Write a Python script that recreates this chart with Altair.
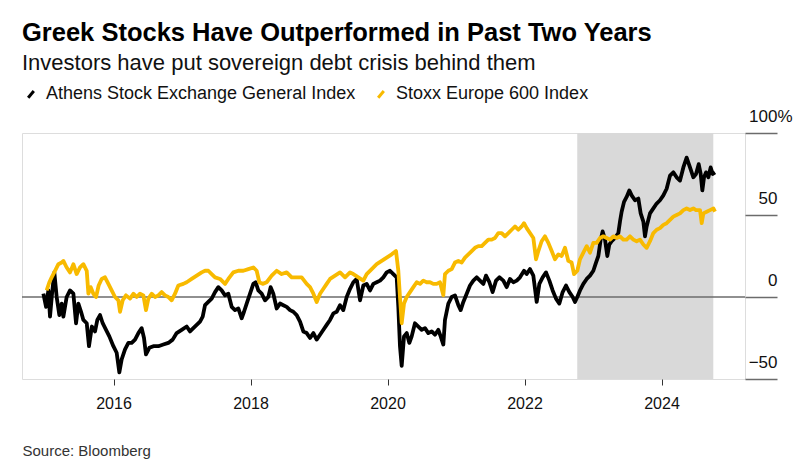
import altair as alt
import pandas as pd

# ---- data (decimal year, % change) ----
athens_year = [
    2014.976, 2015.015, 2015.049, 2015.073, 2015.107, 2015.136, 2015.170, 2015.209, 2015.243, 2015.268,
    2015.316, 2015.365, 2015.414, 2015.453, 2015.487, 2015.526, 2015.560, 2015.609, 2015.642, 2015.684,
    2015.730, 2015.764, 2015.803, 2015.842, 2015.891, 2015.939, 2015.998, 2016.046, 2016.085, 2016.119,
    2016.168, 2016.217, 2016.265, 2016.314, 2016.363, 2016.411, 2016.445, 2016.474, 2016.523, 2016.582,
    2016.655, 2016.727, 2016.800, 2016.864, 2016.922, 2016.995, 2017.068, 2017.117, 2017.165, 2017.214,
    2017.263, 2017.302, 2017.336, 2017.384, 2017.433, 2017.482, 2017.530, 2017.579, 2017.628, 2017.676,
    2017.725, 2017.774, 2017.822, 2017.871, 2017.905, 2017.944, 2017.993, 2018.041, 2018.075, 2018.114,
    2018.163, 2018.212, 2018.260, 2018.294, 2018.333, 2018.382, 2018.431, 2018.479, 2018.528, 2018.577,
    2018.625, 2018.674, 2018.723, 2018.771, 2018.820, 2018.869, 2018.918, 2018.966, 2019.015, 2019.064,
    2019.112, 2019.161, 2019.210, 2019.258, 2019.307, 2019.355, 2019.404, 2019.453, 2019.501, 2019.550,
    2019.599, 2019.647, 2019.696, 2019.745, 2019.793, 2019.842, 2019.891, 2019.939, 2019.988, 2020.036,
    2020.085, 2020.134, 2020.158, 2020.182, 2020.207, 2020.241, 2020.280, 2020.319, 2020.353, 2020.401,
    2020.450, 2020.499, 2020.547, 2020.596, 2020.645, 2020.693, 2020.742, 2020.776, 2020.815, 2020.839,
    2020.888, 2020.937, 2020.985, 2021.034, 2021.068, 2021.107, 2021.156, 2021.204, 2021.253, 2021.302,
    2021.350, 2021.399, 2021.438, 2021.487, 2021.535, 2021.584, 2021.633, 2021.691, 2021.740, 2021.788,
    2021.837, 2021.886, 2021.934, 2021.993, 2022.032, 2022.080, 2022.129, 2022.178, 2022.217, 2022.265,
    2022.314, 2022.363, 2022.411, 2022.460, 2022.509, 2022.557, 2022.606, 2022.655, 2022.703, 2022.737,
    2022.771, 2022.810, 2022.859, 2022.908, 2022.956, 2023.005, 2023.044, 2023.078, 2023.112, 2023.141,
    2023.175, 2023.209, 2023.238, 2023.273, 2023.321, 2023.370, 2023.394, 2023.418, 2023.453, 2023.491,
    2023.530, 2023.564, 2023.613, 2023.662, 2023.696, 2023.735, 2023.759, 2023.783, 2023.832, 2023.881,
    2023.929, 2023.978, 2024.027, 2024.075, 2024.124, 2024.173, 2024.221, 2024.270, 2024.319, 2024.367,
    2024.416, 2024.465, 2024.504, 2024.543, 2024.572, 2024.596, 2024.621, 2024.650, 2024.684, 2024.718,
    2024.747, 2024.781,
]
athens_pct = [
    2, -6, 4, -12, 4, 15, 0, -11, -4, -12,
    0, 4, 2, -16, -4, -9, -14, -16, -30, -18,
    -21, -14, -11, -16, -20, -24, -30, -34, -46, -38,
    -32, -28, -28, -26, -22, -19, -25, -35, -31, -30,
    -30, -29, -28, -26, -22, -20, -18, -21, -19, -17,
    -15, -12, -5, -3, -1, 3, 6, 4, 1, 2,
    -6, -8, -7, -13, -9, -4, 2, 8, 9, 4,
    2, -2, 0, 6, 2, -7, -4, -5, -6, -8,
    -9, -11, -15, -21, -22, -25, -22, -26, -23, -20,
    -17, -14, -10, -9, -5, -8, 0, 5, 9, 11,
    -2, 7, 8, 4, 8, 9, 10, 12, 15, 16,
    14, 12, -6, -30, -42, -24, -22, -28, -24, -16,
    -18, -20, -19, -22, -21, -23, -20, -24, -29, -14,
    -4, 0, 1, -5, -8, -3, 2, 7, 10, 12,
    10, 8, 13, 9, 3, 10, 12, 10, 6, 11,
    9, 10, 12, 16, 14, 17, 13, -3, 8, 12,
    15, 10, 4, -1, -4, 3, 7, 3, 0, -3,
    0, 4, 8, 11, 13, 16, 21, 25, 35, 40,
    35, 25, 32, 34, 36, 39, 46, 52, 58, 61,
    65, 62, 59, 60, 51, 46, 37, 43, 51, 54,
    57, 59, 62, 66, 74, 76, 73, 71, 79, 85,
    79, 73, 75, 81, 75, 65, 73, 76, 73, 79,
    75, 76,
]

stoxx_year = [
    2015.024, 2015.063, 2015.097, 2015.146, 2015.195, 2015.243, 2015.268, 2015.316, 2015.365, 2015.414,
    2015.462, 2015.511, 2015.560, 2015.609, 2015.633, 2015.667, 2015.706, 2015.745, 2015.783, 2015.827,
    2015.876, 2015.925, 2015.973, 2016.022, 2016.071, 2016.095, 2016.134, 2016.182, 2016.241, 2016.290,
    2016.338, 2016.387, 2016.436, 2016.474, 2016.509, 2016.557, 2016.606, 2016.655, 2016.703, 2016.752,
    2016.800, 2016.849, 2016.898, 2016.946, 2017.019, 2017.068, 2017.141, 2017.214, 2017.287, 2017.336,
    2017.384, 2017.433, 2017.482, 2017.555, 2017.628, 2017.676, 2017.749, 2017.822, 2017.895, 2017.968,
    2018.041, 2018.090, 2018.129, 2018.178, 2018.236, 2018.309, 2018.382, 2018.455, 2018.528, 2018.601,
    2018.674, 2018.747, 2018.820, 2018.869, 2018.918, 2018.966, 2019.015, 2019.064, 2019.112, 2019.161,
    2019.234, 2019.307, 2019.380, 2019.453, 2019.501, 2019.574, 2019.647, 2019.696, 2019.769, 2019.842,
    2019.915, 2019.988, 2020.061, 2020.124, 2020.158, 2020.182, 2020.207, 2020.241, 2020.280, 2020.328,
    2020.377, 2020.426, 2020.475, 2020.523, 2020.572, 2020.620, 2020.669, 2020.718, 2020.766, 2020.815,
    2020.839, 2020.888, 2020.937, 2020.985, 2021.034, 2021.083, 2021.131, 2021.180, 2021.229, 2021.277,
    2021.326, 2021.375, 2021.423, 2021.472, 2021.521, 2021.569, 2021.618, 2021.667, 2021.715, 2021.764,
    2021.813, 2021.861, 2021.910, 2021.959, 2021.993, 2022.032, 2022.080, 2022.129, 2022.168, 2022.202,
    2022.250, 2022.299, 2022.348, 2022.397, 2022.445, 2022.494, 2022.542, 2022.591, 2022.640, 2022.688,
    2022.723, 2022.771, 2022.810, 2022.859, 2022.908, 2022.956, 2023.005, 2023.054, 2023.102, 2023.151,
    2023.200, 2023.248, 2023.297, 2023.346, 2023.394, 2023.443, 2023.491, 2023.540, 2023.589, 2023.637,
    2023.686, 2023.735, 2023.783, 2023.832, 2023.881, 2023.929, 2023.978, 2024.027, 2024.075, 2024.124,
    2024.173, 2024.221, 2024.270, 2024.319, 2024.367, 2024.416, 2024.465, 2024.504, 2024.562, 2024.587,
    2024.611, 2024.660, 2024.708, 2024.757, 2024.781,
]
stoxx_pct = [
    4, 9, 12, 16, 20, 21, 22, 18, 15, 20,
    14, 18, 20, 16, 2, 6, 2, 0, 7, 11,
    12, 8, 4, 0, -2, -9, -2, 1, -1, 2,
    0, 2, 1, -8, -1, 2, 0, 1, 3, 1,
    0, -2, 2, 7, 8, 9, 11, 13, 15, 16,
    16, 14, 12, 11, 8, 11, 15, 16, 16, 17,
    18, 16, 9, 8, 9, 13, 16, 14, 15, 12,
    12, 12, 8, 6, 2, -3, 2, 5, 8, 11,
    13, 15, 12, 15, 14, 12, 10, 14, 17, 20,
    22, 24, 26, 28, 16, 0, -16, -4, 0, 3,
    6, 9, 8, 10, 9, 9, 8, 8, 9, 1,
    14, 16, 17, 21, 22, 21, 24, 26, 28, 30,
    31, 31, 33, 35, 35, 36, 39, 39, 37, 39,
    41, 43, 41, 43, 45, 42, 39, 36, 23, 28,
    34, 37, 33, 28, 23, 26, 25, 30, 22, 21,
    14, 16, 23, 27, 31, 27, 33, 33, 36, 37,
    36, 35, 37, 36, 37, 35, 35, 37, 35, 34,
    35, 32, 30, 34, 39, 41, 42, 44, 45, 47,
    49, 50, 51, 53, 54, 53, 54, 53, 53, 45,
    51, 52, 53, 54, 52,
]

series_names = ["Athens Stock Exchange General Index", "Stoxx Europe 600 Index"]
series_colors = ["#000000", "#F8BA00"]

year_ticks = [2016, 2018, 2020, 2022, 2024]
pct_ticks = [-50, 0, 50, 100]

shade_start = 2022.77
shade_end = 2024.756

x_domain = [2014.664, 2025.219]
y_domain = [-50, 100]

title_text = "Greek Stocks Have Outperformed in Past Two Years"
subtitle_text = "Investors have put sovereign debt crisis behind them"
source_text = "Source: Bloomberg"

FONT = "Liberation Sans, Arial, Helvetica, sans-serif"

# ---- tables ----
lines_df = pd.concat([
    pd.DataFrame({"year": athens_year, "pct": athens_pct, "series": series_names[0], "order": 1}),
    pd.DataFrame({"year": stoxx_year, "pct": stoxx_pct, "series": series_names[1], "order": 0}),
], ignore_index=True)

shade_df = pd.DataFrame({"x": [shade_start], "x2": [shade_end], "y": [y_domain[0]], "y2": [y_domain[1]]})

x_scale = alt.Scale(domain=x_domain, nice=False, zero=False)
y_scale = alt.Scale(domain=y_domain, nice=False, zero=False)

x_axis = alt.Axis(
    values=year_ticks, format="d", domain=False, grid=False,
    ticks=True, tickSize=6, tickColor="#333333", tickWidth=1,
    labelFontSize=16, labelFont=FONT, labelColor="#111111", labelPadding=10,
    title=source_text, titleFont=FONT, titleFontSize=15, titleFontWeight="normal",
    titleColor="#333333", titleAnchor="start", titleAlign="left", titleBaseline="alphabetic",
    titleX=0, titleY=76,
)

y_axis = alt.Axis(
    orient="right", values=pct_ticks, domain=False, grid=False,
    ticks=True, tickSize=32, tickColor="#6b6b6b", tickWidth=1.5,
    labelAlign="right", labelBaseline="middle", labelOffset=-17,
    labelPadding={"condition": {"test": "datum.value == 100", "value": 15}, "value": 0},
    labelFontSize=17, labelFont=FONT, labelColor="#111111",
    labelExpr="datum.value == 100 ? '100%' : datum.label",
    title=None,
)

shade = alt.Chart(shade_df).mark_rect(color="#D9D9D9").encode(
    x=alt.X("x:Q", scale=x_scale, axis=x_axis),
    x2="x2:Q",
    y=alt.Y("y:Q", scale=y_scale, axis=y_axis),
    y2="y2:Q",
)

zero_rule = alt.Chart(shade_df).mark_rule(color="#6b6b6b", strokeWidth=1.5).encode(
    y=alt.datum(0, scale=y_scale),
)

lines = alt.Chart(lines_df).mark_line(strokeWidth=3.8, strokeJoin="round").encode(
    x=alt.X("year:Q", scale=x_scale),
    y=alt.Y("pct:Q", scale=y_scale),
    color=alt.Color(
        "series:N",
        scale=alt.Scale(domain=series_names, range=series_colors),
        legend=alt.Legend(
            orient="none", legendX=0, legendY=-48, direction="horizontal",
            title=None, padding=0,
            symbolType="M-0.42,0.5L0.42,-0.5", symbolSize=180, symbolStrokeWidth=3,
            labelFontSize=18, labelFont=FONT, labelColor="#111111",
            labelOffset=6, columnPadding=16, labelLimit=500,
        ),
    ),
    order=alt.Order("order:Q"),
    detail="series:N",
)

chart = alt.layer(shade, zero_rule, lines).properties(
    width=723,
    height=246,
    padding={"left": 14, "top": 125, "right": 53, "bottom": 88},
    autosize=alt.AutoSizeParams(type="none"),
    title=alt.TitleParams(
        text=title_text, subtitle=subtitle_text,
        anchor="start", frame="group", offset=11,
        font=FONT, fontSize=25.5, fontWeight="bold", color="#000000",
        subtitleFont=FONT, subtitleFontSize=22, subtitleColor="#111111",
        subtitlePadding=7,
    ),
).configure_view(stroke=None).configure(background="white")

chart.save("out.html", embed_options={"renderer": "svg", "actions": False})
